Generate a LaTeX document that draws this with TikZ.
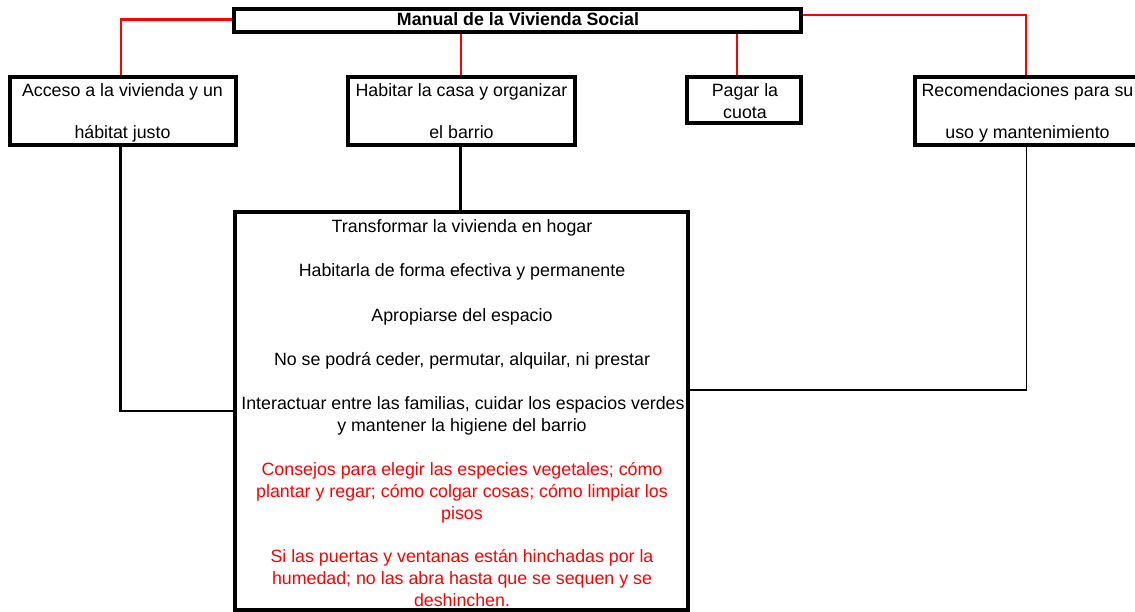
\documentclass[tikz,border=0pt]{standalone}
\usepackage{fontspec}
\setmainfont{Liberation Sans}
\definecolor{lred}{RGB}{255,0,0}
\tikzset{
  boxed/.style={draw=black, line width=3.5pt, inner sep=0pt, rectangle},
  txt/.style={anchor=base, inner sep=0pt, font=\fontsize{17.8}{22}\selectfont},
  rtxt/.style={txt, text=lred},
  redline/.style={draw=lred, line width=2.2pt},
  blkline/.style={draw=black, line width=2.5pt},
  thinline/.style={draw=black, line width=1.3pt},
}
\begin{document}
\begin{tikzpicture}[x=1pt, y=-1pt]
\clip (0,0) rectangle (1135,612);
\fill[white] (0,0) rectangle (1135,612);
% boxes
\node[boxed, minimum width=567pt, minimum height=23pt] (title) at (517.5,20.5) {};
\node[boxed, minimum width=226pt, minimum height=68pt] (b1) at (123,111) {};
\node[boxed, minimum width=227pt, minimum height=68pt] (b2) at (461.5,111) {};
\node[boxed, minimum width=114pt, minimum height=46pt] (b3) at (744,100) {};
\node[boxed, minimum width=225pt, minimum height=68pt] (b4) at (1027.5,111) {};
\node[boxed, minimum width=453pt, minimum height=398pt] (big) at (461.5,411) {};
% texts
\node[txt, font=\fontsize{17.8}{22}\selectfont\bfseries] (tt) at (518,26) {Manual de la Vivienda Social};
\node[txt] (a1) at (122.5,96.5) {Acceso a la vivienda y un};
\node[txt] (a2) at (122.5,138.5) {hábitat justo};
\node[txt] (h1) at (461.5,96.5) {Habitar la casa y organizar};
\node[txt] (h2) at (461.5,138.5) {el barrio};
\node[txt] (p1) at (745,96.5) {Pagar la};
\node[txt] (p2) at (745,118.5) {cuota};
\node[txt] (r1) at (1027.5,96.5) {Recomendaciones para su};
\node[txt] (r2) at (1027.5,138.5) {uso y mantenimiento};
\node[txt] (l1) at (462,233) {Transformar la vivienda en hogar};
\node[txt] (l2) at (462,277) {Habitarla de forma efectiva y permanente};
\node[txt] (l3) at (462,321) {Apropiarse del espacio};
\node[txt] (l4) at (462,365) {No se podrá ceder, permutar, alquilar, ni prestar};
\node[txt] (l5) at (463,409.5) {Interactuar entre las familias, cuidar los espacios verdes};
\node[txt] (l6) at (462,431.5) {y mantener la higiene del barrio};
\node[rtxt] (l7) at (462,475) {Consejos para elegir las especies vegetales; cómo};
\node[rtxt] (l8) at (462,497) {plantar y regar; cómo colgar cosas; cómo limpiar los};
\node[rtxt] (l9) at (462,519) {pisos};
\node[rtxt] (l10) at (462,562.5) {Si las puertas y ventanas están hinchadas por la};
\node[rtxt] (l11) at (462,584.5) {humedad; no las abra hasta que se sequen y se};
\node[rtxt] (l12) at (462,606.5) {deshinchen.};
% corner coordinates
\coordinate (cl) at (121,19.5);
\coordinate (cm) at (460.7,0);
\coordinate (cp) at (736.7,0);
\coordinate (cr) at (1025.6,15);
\coordinate (kl) at (120.5,411);
\coordinate (km) at (460.5,0);
\coordinate (kr) at (1026.5,390);
% red connectors
\draw[redline] (title.west |- cl) -- (cl) -- (b1.north -| cl);
\draw[redline] (title.south -| cm) -- (b2.north -| cm);
\draw[redline] (title.south -| cp) -- (b3.north -| cp);
\draw[redline] (title.east |- cr) -- (cr) -- (b4.north -| cr);
% black connectors
\draw[blkline] (b1.south -| kl) -- (kl) -- (big.west |- kl);
\draw[blkline] (b2.south -| km) -- (big.north -| km);
\draw[thinline] (b4.south -| kr) -- (kr) -- (big.east |- kr);
\end{tikzpicture}
\end{document}
